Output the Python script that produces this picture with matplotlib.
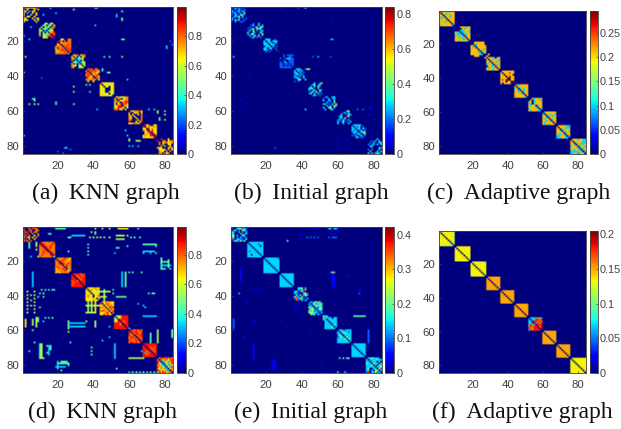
import numpy as np
import matplotlib
matplotlib.use("Agg")
import matplotlib.pyplot as plt

N = 84
sizes = [9, 9, 9, 8, 8, 8, 8, 8, 8, 9]
captions = ["(a) \u2009KNN graph", "(b) \u2009Initial graph", "(c) \u2009Adaptive graph",
            "(d) \u2009KNN graph", "(e) \u2009Initial graph", "(f) \u2009Adaptive graph"]
caption_x = [105.5, 311, 519, 102.5, 311, 522.5]
caption_y = [193, 193, 193, 412, 412, 412]
ticks = [20, 40, 60, 80]

# levels: 0-9 -> fraction of the colour range, o = orange
a_blocks = [
    "077676770 706000606 760305700 603006060 600060060 705600600 760006076 666000605 500000050",
    "000550550 004605406 060344077 505530570 640305460 604050678 504446087 706678708 006450080",
    "000660077 008707077 080677777 067077787 777707877 607770787 677887078 767778707 777777870",
    "06770577 60605067 76034460 70304050 05440346 50403064 76605605 77004650",
    "07870770 70787876 87077767 78706770 78760786 07678077 77777706 06006000",
    "06666666 60665566 66065066 66600066 65500065 65600666 66666065 66665650",
    "06755677 60780567 77065687 58608788 50670786 56880865 66887606 77865060",
    "07677786 70066706 60600607 76060007 76006007 77000607 80006068 66777680",
    "08670066 80676676 66086766 76806866 06680866 06768086 67668808 66666680",
    "008000600 800770677 070677667 070600660 007060060 666000677 066660705 076607070 077075700",
]
a_spots = [(1, 16, 4), (2, 29, 5), (1, 41, 4), (1, 42, 4), (5, 12, 3), (4, 19, 3), (6, 53, 3),
           (5, 53, 3), (3, 56, 5), (8, 56, 5), (7, 56, 4), (11, 41, 3), (12, 5, 3), (17, 1, 3),
           (19, 4, 3), (19, 56, 4), (19, 57, 4), (20, 83, 2), (24, 81, 3), (23, 81, 3), (22, 84, 2),
           (29, 2, 6), (29, 46, 4), (29, 49, 4), (29, 56, 6), (38, 1, 4), (41, 11, 2), (36, 45, 4),
           (37, 45, 3), (38, 49, 4), (38, 48, 4), (42, 59, 3), (45, 36, 4), (45, 38, 4), (46, 29, 5),
           (49, 29, 5), (49, 38, 4), (53, 6, 4), (53, 7, 4), (54, 7, 4), (56, 4, 5), (56, 7, 5),
           (56, 9, 5), (56, 19, 4), (55, 19, 4), (56, 29, 5), (59, 42, 3), (59, 71, 3), (59, 74, 3),
           (60, 76, 5), (61, 76, 5), (60, 80, 5), (62, 80, 5), (65, 77, 4), (64, 77, 4), (65, 80, 5),
           (71, 58, 3), (74, 59, 3), (74, 1, 4), (77, 60, 5), (76, 60, 5), (77, 64, 5), (77, 65, 5),
           (77, 66, 5), (80, 60, 3), (80, 62, 3), (80, 65, 3), (83, 20, 2), (81, 24, 3), (81, 25, 3),
           (82, 27, 2), (84, 23, 2)]

b_blocks = [
    "023220200 202032020 320230320 223022040 203205320 023250300 320030202 304230020 002002200",
    "000200300 002300303 020024053 203305340 030502023 300320042 305400205 030240502 002302020",
    "033300200 303303330 330330320 333033200 033303020 330330200 332020020 020200002 000000000",
    "00202222 00200220 20023322 00200222 20230222 22022022 22020202 22222220",
    "03330025 30323000 33030200 23303000 32030300 23300300 00350030 00200000",
    "00030025 00340240 03030420 34300300 30240052 02405030 24030302 00232020",
    "02300330 20030230 30032030 00302050 33020306 00303053 30055030 03003300",
    "00000350 00023030 00300233 03300840 02304000 23032030 30240203 30030030",
    "03333200 30323020 33033032 32302302 23320354 03033024 20302302 00240220",
    "000000300 000203030 002030033 020230303 003300000 000200033 020800030 003000303 030303330",
]
b_spots = [(1, 17, 1), (2, 29, 1), (1, 38, 2), (1, 42, 4), (9, 57, 1), (19, 4, 1), (19, 57, 3),
           (19, 56, 2), (26, 27, 9), (29, 2, 3), (41, 11, 1), (29, 46, 2), (29, 49, 3), (29, 56, 2),
           (59, 42, 3), (59, 71, 2), (59, 74, 2), (62, 77, 1), (65, 80, 1), (77, 60, 1), (80, 60, 1),
           (77, 65, 1), (80, 65, 1), (81, 25, 2), (54, 7, 1), (56, 9, 1), (43, 36, 2), (36, 44, 5),
           (58, 78, 1), (59, 78, 1)]

c_blocks = [
    "0oooo3ooo o0oo3oooo oo03oo3oo o3o0oo3oo o3oo0oooo oooo30ooo 3oo3oo0oo ooooooo0o 3oooooo30",
    "000ooo3oo 0000o3ooo 00033ooo3 o33033oo3 o3330o3oo 3o3o303oo oo3o3o0oo oooo33o0o oo3oooo30",
    "00oooooo0 00o3oooo0 oo03ooooo o3o0ooooo oooo0oo3o ooooo03oo oooo3o03o ooooo3300 00ooo0000",
    "0ooo30oo o0o3ooo3 oo0oo33o o3o0oooo 3oo30o3o 0oo3o0oo o3oo3o0o ooo3ooo0",
    "0ooooooo o0ooo8oo oo0oooo0 ooo0o9oo oooo09oo o8o990oo ooo0oo0o o0ooooo0",
    "0o3ooooo o0oooooo 3o03o3oo oo30o3oo oo3o03oo oooo30oo oooooo0o oooooo30",
    "00o3oo3o 0o03ooo3 oo03oooo 3303oooo o3oo03oo oooo30oo 3ooooo03 o3ooo330",
    "03oooooo 30oo3oo3 oo03o33o oo30oooo o3oo03oo oo3o30oo o3oooo0o o3o3ooo0",
    "0ooooo33 o0ooo333 oo03o3oo oo30ooo3 oooo03oo o33o30oo 33ooo303 333oo330",
    "0ooo3oo33 o0ooooo33 oo03oo333 oo30o3o3o 3ooo03oo3 oooo30o3o 3o3oo303o 33333o303 33o3o3oo0",
]
c_spots = [(43, 42, 9), (42, 43, 9), (27, 28, 6), (28, 27, 6), (26, 29, 6)]

d_blocks = [
    "087077607 800708870 700870077 078070770 708007007 070700607 607606070 080700600 787070000",
    "087777778 808777787 780877877 778087877 777808777 778780877 778777087 787777808 877777780",
    "077778776 707787767 770877677 778087787 777707877 787770877 677787077 767778707 676777770",
    "08888788 80878878 88087888 88808788 78870888 87888088 78888808 88888880",
    "06666766 60676576 66066665 66606566 67660657 67560667 66656606 66667660",
    "07676766 70678666 66067776 77606878 66760686 78776068 66678607 66868670",
    "05558888 50668888 56088888 56808788 88870888 88878088 88888808 88888880",
    "08878787 80788778 87078878 87708788 78870878 78787087 87778708 78878780",
    "08888888 80888888 88087878 88808788 88780878 88878088 88788808 88888880",
    "078878787 707577578 870375378 853035758 775305375 867530638 757573067 875757307 787875770",
]
d_spots = [(2, range(19, 25), 4), (2, 41, 5), (2, 45, 5), (2, 49, 5), (2, range(54, 60), 6), (2, 65, 4),
           (7, [38, 40, 42, 44, 46, 49], 5), (4, [39, 41], 5), (5, 41, 4),
           (6, [53, 54, 55, 56, 57, 59], 5), (8, range(53, 58), 5),
           (6, range(28, 36), 3), (7, range(26, 28), 4), (5, range(15, 17), 4), (7, [61, 63, 66], 4),
           (11, range(68, 76), 4), (15, range(68, 75), 3), (16, [68, 72], 3), (16, 75, 4), (12, 75, 4),
           (13, range(53, 55), 4), (16, 52, 3), (12, 59, 4), (range(11, 19, 2), 37, 4), (15, 26, 4), (26, 26, 4),
           (18, 9, 5), (17, 10, 5), (range(10, 14), 4, 4), (range(10, 13), 8, 5), (18, 5, 3), (14, 8, 5), (18, 18, 4),
           (range(19, 26), 78, 4), (21, [79, 80, 81], 4), (23, range(78, 84), 3), (25, [79, 80, 83], 4),
           (range(20, 25), 82, 4), (20, 78, 5),
           (range(27, 36), 6, 3), (range(27, 36), 56, 3), (range(27, 36), 58, 4), (27, [60, 62, 67], 4),
           (41, range(53, 59), 4), (39, [71, 73, 74], 4), (37, [11, 13, 15, 17, 18], 4),
           (range(38, 51, 2), 3, 5), (range(38, 51, 2), 7, 5), (range(40, 48, 3), 5, 5), (39, [10, 12], 4),
           (41, [9, 12], 4), (47, 10, 4), (range(54, 59), 2, 6), (range(54, 58), 6, 5), (range(53, 59), 8, 5),
           (range(53, 56), 9, 4), (53, [13, 15, 17], 4), (55, 12, 3),
           (56, range(26, 36), 3), (58, range(26, 36), 3), (range(55, 63, 2), 26, 5), (55, 36, 5),
           (range(55, 59), 41, 5), (52, range(68, 76), 3), (range(60, 68), 76, 5), (range(62, 68), 72, 4),
           (range(68, 77), 52, 3), (range(70, 76, 2), 39, 4), (range(68, 77), 10, 4), (range(68, 77), 11, 5),
           (76, range(10, 13), 5), (range(69, 75), 15, 3), (range(69, 72), 16, 4), (69, 14, 4), (73, 14, 4),
           (range(78, 83), 20, 3), (79, range(20, 27), 4), (81, range(19, 25), 3), (78, range(22, 26), 4),
           (80, 26, 4), (83, 22, 4), (76, range(60, 69), 5), (82, 53, 4), (range(60, 65), 84, 4), (60, 6, 5),
           (67, 7, 4), (67, 27, 4), (64, 49, 3), (66, 45, 3), (72, 4, 4), (84, range(60, 78, 2), 4),
           (58, 49, 3), (47, 69, 3), (45, 65, 3), (46, 68, 3), (59, 60, 3), (72, 67, 3), (73, 69, 3),
           (38, range(44, 50), 5), (41, range(44, 48), 5), (range(37, 44), 46, 5), (range(44, 51), [37, 39], 5),
           (46, range(36, 44), 5), (range(44, 50), 41, 6), (50, range(36, 42), 5), (37, 51, 4), (39, 51, 4)]

e_blocks = [
    "002430370 200345232 024020442 430030803 330003223 460300430 340203022 820332204 025325240",
    "033333333 303333233 330333303 333033333 333303333 323330333 333333033 330333303 333333330",
    "033333332 303333333 330333333 333033333 333303333 333330333 333333033 333333303 333333330",
    "03333333 30333333 33033333 33303333 33330333 33333033 33333303 33333330",
    "00345030 00324270 34023800 32200352 04040353 52305020 27253203 08203030",
    "03236340 30362435 23035343 63303253 25630354 43523032 45533203 05340320",
    "03300000 30333033 33033333 03303333 03330333 03333043 03333403 03333330",
    "03322333 30353323 33034333 25303333 23430533 33335043 33333403 33333330",
    "03333333 30333333 33033333 33303333 33330333 33333033 33333303 33333330",
    "033533320 303333438 330333030 533053303 333503053 333330335 340033052 330305503 280335230",
]
e_spots = [(2, [55, 56, 58, 59], 3), (2, 41, 1), (2, [47, 49], 1), (7, [43, 45, 47, 49], 2),
           (7, [55, 57, 58, 59], 2), (5, [56, 58], 1), (9, 32, 4), (7, 39, 1), (5, 40, 1),
           (27, 57, 4), (27, 58, 7), (27, 56, 2), (range(28, 36), 57, 1), (range(28, 36), 58, 1),
           (range(54, 60), 2, 2), (39, 5, 3), (39, 72, 2), (range(68, 77), 13, 1),
           (76, [61, 63, 65, 66], 4), (52, range(69, 76), 4), (range(60, 68), 77, 2), (range(77, 83), 25, 1),
           (range(78, 83), 24, 1), (79, 23, 1), (82, 22, 1), (45, [36, 38], 1), (47, [36, 38], 1), (51, 40, 1),
           (range(25, 33), 6, 1), (37, [13, 15, 17], 1), (41, 2, 1), (44, 9, 1), (52, 52, 4), (50, 53, 1),
           (53, 53, 7), (60, 45, 1), (58, 32, 1), (55, [13, 14], 1), (64, 8, 1), (70, 10, 1), (80, 51, 1),
           (83, 53, 1), (84, 60, 4), (84, 64, 3), (37, 72, 1), (29, 66, 1), (range(1, 5), 60, 1), (77, 84, 3)]

f_fill = [0.133, 0.133, 0.133, 0.15, 0.15, 0.15, 0.15, 0.15, 0.15, 0.133]
f_block7 = "03337373 30338878 33088787 33803878 78370888 38788078 87788808 38788880"

vmaxs = [0.998, 0.838, 0.295, 0.989, 0.423, 0.205]
cbar_ticks = [[0, 0.2, 0.4, 0.6, 0.8],
              [0, 0.2, 0.4, 0.6, 0.8],
              [0, 0.05, 0.1, 0.15, 0.2, 0.25],
              [0, 0.2, 0.4, 0.6, 0.8],
              [0, 0.1, 0.2, 0.3, 0.4],
              [0, 0.05, 0.1, 0.15, 0.2]]

# pixel boxes: left, right, top, bottom, cbar left, cbar right
W, H = 621, 429
boxes = [(23, 173, 7, 154, 176.5, 186),
         (231, 382, 7, 154, 385, 394.5),
         (439, 586, 11, 154, 589.5, 598),
         (23, 173, 227, 373, 176.5, 186),
         (231, 382, 227, 373, 385, 394.5),
         (439, 586, 231, 373, 589.5, 598)]


def level(ch):
    return 0.71 if ch == 'o' else int(ch) / 9


def build(blocks, spots, vmax):
    m = np.zeros((N, N))
    pos = 0
    for size, block in zip(sizes, blocks):
        for i, row in enumerate(block.split()):
            for j, ch in enumerate(row):
                m[pos + i, pos + j] = level(ch) * vmax
        pos += size
    for rows, cols, lev in spots:
        r = np.atleast_1d(list(rows) if isinstance(rows, range) else rows) - 1
        c = np.atleast_1d(list(cols) if isinstance(cols, range) else cols) - 1
        m[np.ix_(r, c)] = lev / 9 * vmax
    return m


def build_f(vmax):
    m = np.zeros((N, N))
    pos = 0
    for k, (size, fill) in enumerate(zip(sizes, f_fill)):
        m[pos:pos + size, pos:pos + size] = fill
        if k == 6:
            for i, row in enumerate(f_block7.split()):
                for j, ch in enumerate(row):
                    m[pos + i, pos + j] = level(ch) * vmax
        for i in range(size):
            m[pos + i, pos + i] = 0
        pos += size
    # first block has a paler right edge and bottom row
    m[0:9, 7] = 0.115
    m[7, 0:9] = 0.115
    m[7, 7] = 0
    m[18, 26] = 0.09
    m[26, 18] = 0.09
    m[18, 18] = 0
    return m


mats = [build(a_blocks, a_spots, vmaxs[0]),
        build(b_blocks, b_spots, vmaxs[1]),
        build(c_blocks, c_spots, vmaxs[2]),
        build(d_blocks, d_spots, vmaxs[3]),
        build(e_blocks, e_spots, vmaxs[4]),
        build_f(vmaxs[5])]

plt.rcParams['font.family'] = ['Liberation Sans', 'DejaVu Sans']
dark = '#404040'
fig = plt.figure(figsize=(W / 100, H / 100), dpi=100)

for k, m in enumerate(mats):
    l, r, t, b, cl, cr = boxes[k]
    ax = fig.add_axes([l / W, 1 - b / H, (r - l) / W, (b - t) / H])
    im = ax.imshow(m, cmap='jet', vmin=0, vmax=vmaxs[k], aspect='auto',
                   interpolation='bilinear', interpolation_stage='rgba',
                   extent=(0.5, N + 0.5, N + 0.5, 0.5))
    ax.set_xticks(ticks)
    ax.set_yticks(ticks)
    ax.tick_params(direction='in', length=1.5, width=0.5, color=dark,
                   labelsize=8.2, labelcolor=dark)
    ax.tick_params(axis='x', pad=5)
    ax.tick_params(axis='y', pad=2.5)
    for s in ax.spines.values():
        s.set_color(dark)
        s.set_linewidth(0.6)

    cax = fig.add_axes([cl / W, 1 - b / H, (cr - cl) / W, (b - t) / H])
    cb = fig.colorbar(im, cax=cax)
    cb.set_ticks(cbar_ticks[k])
    cb.set_ticklabels([f"{v:g}" for v in cbar_ticks[k]])
    cax.tick_params(direction='in', length=1.5, width=0.5, color=dark,
                    labelsize=7.8, labelcolor=dark, pad=1.5)
    cb.outline.set_edgecolor(dark)
    cb.outline.set_linewidth(0.6)

    fig.text(caption_x[k] / W, 1 - caption_y[k] / H, captions[k], family='Liberation Serif',
             fontsize=17, ha='center', va='center', color='#111111')

fig.savefig("out.png", dpi=100)
